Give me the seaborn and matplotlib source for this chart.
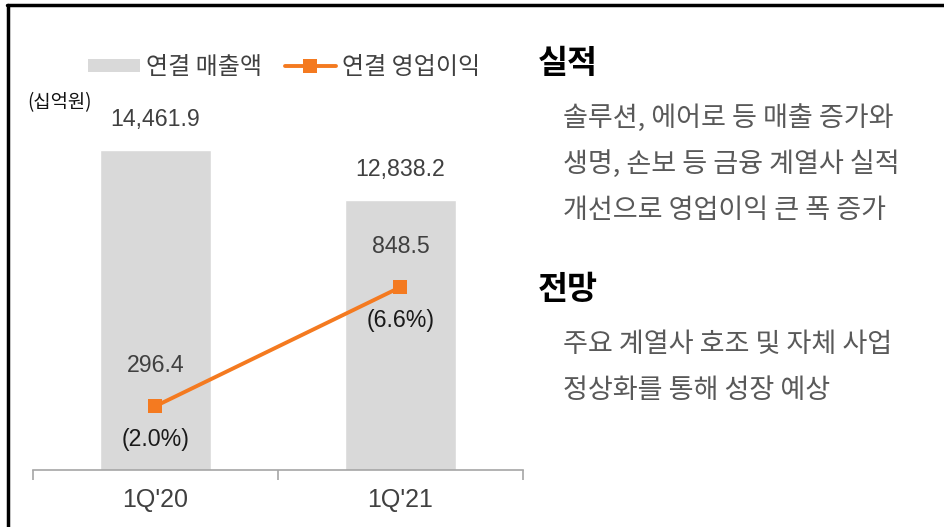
import numpy as np
import pandas as pd
import matplotlib
matplotlib.use("Agg")
import matplotlib.pyplot as plt
import seaborn as sns
from matplotlib.patches import Patch
from matplotlib.lines import Line2D

quarters = ["1Q'20", "1Q'21"]
revenue = [14461.9, 12838.2]
op_profit = [296.4, 848.5]
margin_labels = ["(2.0%)", "(6.6%)"]
revenue_labels = ["14,461.9", "12,838.2"]
profit_labels = ["296.4", "848.5"]
legend_labels = ["연결 매출액", "연결 영업이익"]
unit_label = "(십억원)"
sections = [
    ("실적", ["솔루션, 에어로 등 매출 증가와", "생명, 손보 등 금융 계열사 실적", "개선으로 영업이익 큰 폭 증가"]),
    ("전망", ["주요 계열사 호조 및 자체 사업", "정상화를 통해 성장 예상"]),
]

sns.set_theme(style="white")
plt.rcParams['font.family'] = ['Noto Sans CJK KR', 'DejaVu Sans']

GRAY = "#D9D9D9"
ORANGE = "#F47A20"
TXT = "#404040"
NUMFONT = ['Liberation Sans', 'DejaVu Sans']

W, H = 944, 527
fig = plt.figure(figsize=(W / 100, H / 100), dpi=100)

def fx(px):
    return px / W

def fy(py):
    return 1 - py / H

ax = fig.add_axes([fx(33), fy(470), fx(523) - fx(33), fy(40) - fy(470)])
df = pd.DataFrame({"q": quarters, "rev": revenue})
sns.barplot(data=df, x="q", y="rev", ax=ax, color=GRAY, width=0.45, saturation=1)
ax.set_ylim(4070, 18036)
ax.set_xlim(-0.5, 1.5)
ax.set_xlabel("")
ax.set_ylabel("")
ax.set_yticks([])
for s in ["top", "right", "left"]:
    ax.spines[s].set_visible(False)
ax.spines["bottom"].set_color("#A6A6A6")
ax.spines["bottom"].set_linewidth(1.2)
ax.set_xticks([-0.5, 0.5, 1.5], minor=True)
ax.tick_params(axis="x", which="minor", length=7, width=1.2, color="#A6A6A6", direction="out", bottom=True)
ax.tick_params(axis="x", which="major", length=0, labelsize=18, labelcolor=TXT, pad=13)
for lbl in ax.get_xticklabels():
    lbl.set_fontfamily(NUMFONT)

for i, (v, t) in enumerate(zip(revenue, revenue_labels)):
    ax.annotate(t, (i, v), xytext=(0, 22), textcoords="offset points", ha="center", va="center",
                fontsize=16.7, color=TXT, family=NUMFONT)

ax2 = ax.twinx()
sns.lineplot(x=np.arange(len(quarters)), y=op_profit, ax=ax2, color=ORANGE, linewidth=2.8,
             marker="s", markersize=10, markeredgewidth=0, markerfacecolor=ORANGE)
ax2.set_ylim(0, 1995)
ax2.set_yticks([])
for s in ["top", "right", "left", "bottom"]:
    ax2.spines[s].set_visible(False)

for i, (v, t, m) in enumerate(zip(op_profit, profit_labels, margin_labels)):
    ax2.annotate(t, (i, v), xytext=(0, 29), textcoords="offset points", ha="center", va="center",
                 fontsize=16.7, color=TXT, family=NUMFONT)
    ax2.annotate(m, (i, v), xytext=(0, -24), textcoords="offset points", ha="center", va="center",
                 fontsize=16.7, color="#1a1a1a", family=NUMFONT)

handles = [Patch(facecolor=GRAY, edgecolor="none"),
           Line2D([0], [0], color=ORANGE, lw=2.8, marker="s", markersize=10, markeredgewidth=0)]
fig.legend(handles, legend_labels, ncol=2, loc="center left", bbox_to_anchor=(fx(76), fy(67)),
           frameon=False, fontsize=17.3, handlelength=2.15, handleheight=0.45, handletextpad=0.25,
           columnspacing=0.95, labelcolor=TXT, borderpad=0)

fig.text(fx(27), fy(103), unit_label, fontsize=13.5, color="#111111", ha="left", va="center")

y = 63
for title, lines in sections:
    fig.text(fx(538), fy(y), title, fontsize=23.5, weight="bold", color="black", ha="left", va="center")
    y += 55
    for ln in lines:
        fig.text(fx(563), fy(y), ln, fontsize=19.5, color="#595959", ha="left", va="center")
        y += 46
    y += 34

fig.add_artist(Line2D([fx(7), 1], [fy(5), fy(5)], color="black", lw=2.5, transform=fig.transFigure))
fig.add_artist(Line2D([fx(8), fx(8)], [fy(5), 0], color="black", lw=2.5, transform=fig.transFigure))

fig.savefig("out.png", dpi=100)
